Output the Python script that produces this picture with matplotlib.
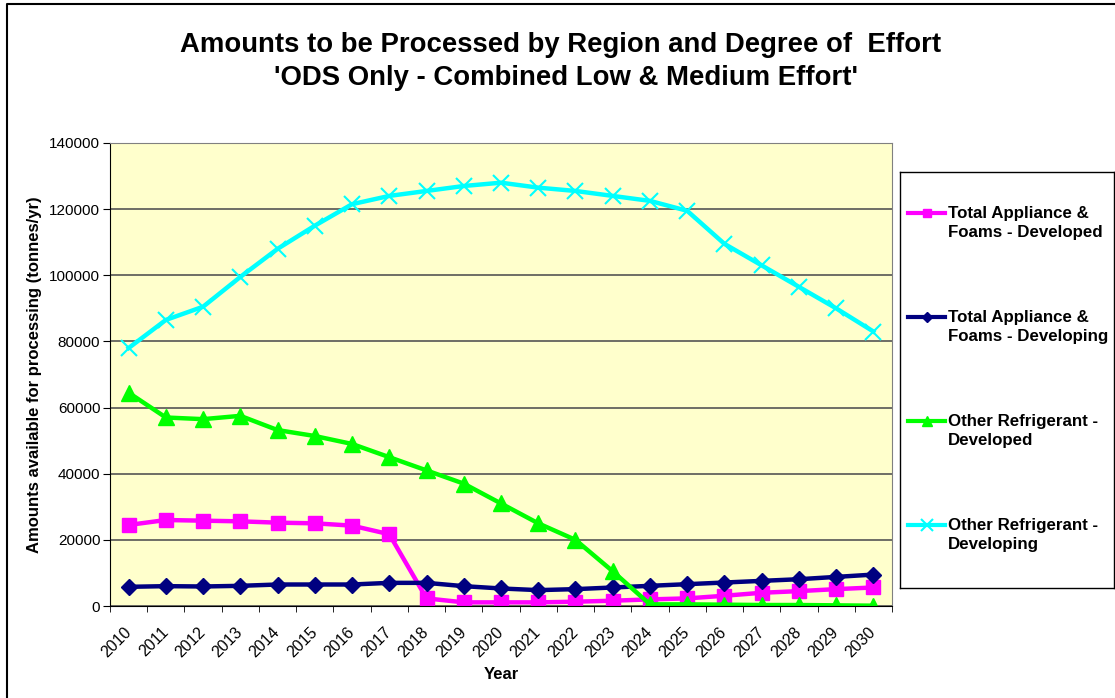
import matplotlib
matplotlib.use("Agg")
import matplotlib.pyplot as plt
from matplotlib.lines import Line2D
import numpy as np

plt.rcParams['font.family'] = ['Liberation Sans', 'DejaVu Sans']

# data
years = [str(y) for y in range(2010, 2031)]

afd_developed = [24500, 26000, 25800, 25600, 25200, 25000, 24300, 21700, 2300, 1100,
                 1100, 1100, 1300, 1600, 2000, 2300, 3100, 4000, 4500, 5100, 5600]
afd_developing = [5800, 6000, 5900, 6100, 6500, 6500, 6500, 7000, 7000, 6000,
                  5300, 4800, 5100, 5600, 6100, 6600, 7100, 7600, 8100, 8800, 9500]
ref_developed = [64500, 57000, 56500, 57500, 53200, 51400, 49000, 45000, 41000, 37000,
                 31000, 25000, 20000, 10500, 500, 500, 400, 300, 300, 200, 100]
ref_developing = [78000, 86500, 90500, 99500, 108000, 115000, 121500, 124000, 125500, 127000,
                  128000, 126500, 125500, 124000, 122500, 119500, 109500, 103000, 96500, 90000, 83000]

labels = ['Total Appliance &\nFoams - Developed',
          'Total Appliance &\nFoams - Developing',
          'Other Refrigerant -\nDeveloped',
          'Other Refrigerant -\nDeveloping']
colors = ['#FF00FF', '#000080', '#00FF00', '#00FFFF']
markers = ['s', 'D', '^', 'x']
sizes = [10, 8, 11, 11]

W, H = 1115, 698
fig = plt.figure(figsize=(W / 100, H / 100), dpi=100)
ax = fig.add_axes([110 / W, 1 - 606 / H, (892 - 110) / W, (606 - 143) / H])
ax.set_facecolor('#FFFFCC')

x = np.arange(len(years))
for ys, c, m, s in zip([afd_developed, afd_developing, ref_developed, ref_developing],
                       colors, markers, sizes):
    ax.plot(x, ys, color=c, lw=3.2, marker=m, ms=s, mew=1.5 if m == 'x' else 1)

ax.set_xlim(-0.5, len(years) - 0.5)
ax.set_ylim(0, 140000)
ax.set_yticks(np.arange(0, 140001, 20000))
ax.yaxis.grid(True, color='#555555', lw=1.2)
ax.set_axisbelow(True)
ax.tick_params(axis='y', labelsize=11, length=5, pad=2, direction='out')

ax.set_xticks(x)
ax.set_xticklabels(years, rotation=45, ha='right', va='center', rotation_mode='anchor', fontsize=11.5)
ax.set_xticks(np.arange(-0.5, len(years), 1), minor=True)
ax.tick_params(axis='x', which='major', length=0, pad=17)
ax.tick_params(axis='x', which='minor', length=4.5, direction='out')

for s in ['top', 'right']:
    ax.spines[s].set_color('#808080')
ax.spines['left'].set_color('black')
ax.spines['bottom'].set_color('black')

ax.set_xlabel('Year', fontsize=12, fontweight='bold')
ax.xaxis.set_label_coords(0.5, -(667 - 606) / 463)
ax.set_ylabel('Amounts available for processing (tonnes/yr)', fontsize=12, fontweight='bold')
ax.yaxis.set_label_coords(-(110 - 42) / 782, 0.5)

fig.text(561 / W, 1 - 45 / H, "Amounts to be Processed by Region and Degree of  Effort",
         ha='center', va='center', fontsize=19.8, fontweight='bold')
fig.text(566 / W, 1 - 78 / H, "'ODS Only - Combined Low & Medium Effort'",
         ha='center', va='center', fontsize=19.8, fontweight='bold')

# legend box drawn like the Excel one: handle level with the first text line
lax = fig.add_axes([900 / W, 1 - 588 / H, 214 / W, (588 - 172) / H])
lax.set_xlim(0, 214)
lax.set_ylim(416, 0)
lax.set_xticks([])
lax.set_yticks([])
for s in lax.spines.values():
    s.set_color('black')
    s.set_linewidth(1.0)
leg_sizes = [6, 5, 7, 8]
for i, (lab, c, m, s) in enumerate(zip(labels, colors, markers, leg_sizes)):
    yy = 41 + i * 104
    lax.add_line(Line2D([8, 45], [yy, yy], color=c, lw=3))
    lax.add_line(Line2D([26.5], [yy], color=c, marker=m, ms=s, mew=1.5 if m == 'x' else 1))
    lax.text(48, yy - 7, lab, ha='left', va='top', fontsize=12.2, fontweight='bold',
             linespacing=1.32)

# outer chart border (left and top edges visible in the picture)
fig.add_artist(Line2D([7 / W, 7 / W, 1.01], [0, 1 - 4 / H, 1 - 4 / H],
                      transform=fig.transFigure, color='black', lw=1.5))

fig.savefig('out.png', dpi=100)
